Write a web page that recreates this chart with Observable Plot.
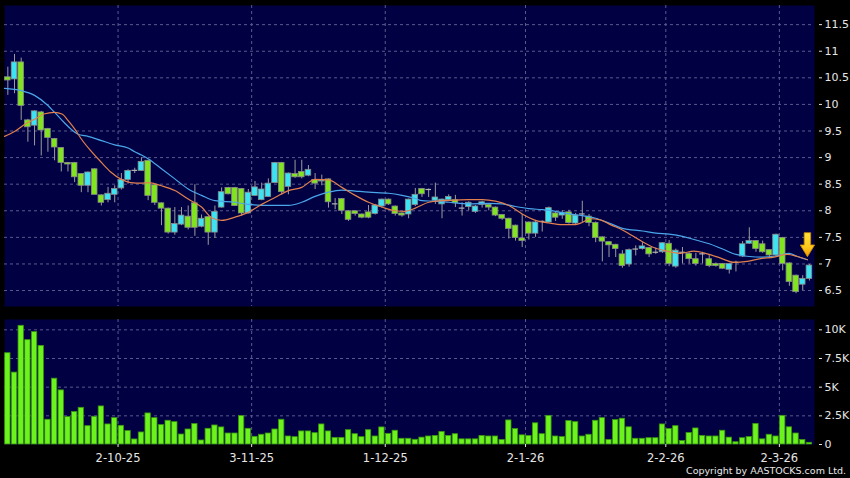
<!DOCTYPE html>
<html>
<head>
<meta charset="utf-8">
<script src="https://cdn.jsdelivr.net/npm/d3@7"></script>
<script src="https://cdn.jsdelivr.net/npm/@observablehq/plot@0.6"></script>
<style>
html,body{margin:0;padding:0;background:#000;}
#wrap{position:relative;width:850px;height:478px;background:#000;overflow:hidden;font-family:"DejaVu Sans",sans-serif;}
#price{position:absolute;left:0;top:0;}
#vol{position:absolute;left:0;top:310px;}
#copy{position:absolute;right:4px;top:465px;color:#e8e8e8;font-size:9.5px;font-family:"DejaVu Sans",sans-serif;white-space:nowrap;}
</style>
</head>
<body>
<div id="wrap"><div id="price"></div><div id="vol"></div><div id="copy">Copyright by AASTOCKS.com Ltd.</div></div>
<script>
// ---- data ----
const opens = [10.51,10.47,10.79,9.70,9.60,9.85,9.54,9.35,9.18,8.90,
 8.90,8.69,8.47,8.78,8.29,8.20,8.30,8.42,8.58,8.75,
 8.75,8.94,8.48,8.14,8.04,7.59,7.74,7.89,8.14,7.70,
 7.88,7.59,8.06,8.43,8.43,8.41,7.95,8.28,8.20,8.26,
 8.52,8.90,8.45,8.69,8.73,8.66,8.58,8.55,8.59,8.13,
 8.22,7.99,7.99,7.93,7.97,7.94,8.08,8.21,8.08,7.95,
 7.93,8.11,8.41,8.40,8.19,8.12,8.20,8.20,8.05,8.07,
 7.98,8.11,8.11,8.06,7.92,7.85,7.72,7.48,7.78,7.57,
 7.80,7.78,7.95,7.91,7.97,7.76,7.94,7.89,7.77,7.50,
 7.41,7.36,7.18,6.99,7.28,7.28,7.30,7.22,7.22,7.38,
 6.95,7.22,7.19,7.09,7.19,7.09,7.00,7.00,6.89,7.03,
 7.14,7.38,7.43,7.37,7.26,7.16,7.49,7.01,6.78,6.61,
 6.72];
const closes = [10.45,10.79,9.97,9.57,9.87,9.51,9.37,9.19,8.90,8.87,
 8.63,8.47,8.72,8.30,8.15,8.32,8.41,8.58,8.75,8.76,
 8.92,8.28,8.15,8.04,7.59,7.75,7.91,7.68,7.68,7.85,
 7.59,7.98,8.35,8.31,8.09,7.95,8.34,8.44,8.40,8.51,
 8.90,8.35,8.70,8.63,8.63,8.77,8.51,8.57,8.16,8.13,
 8.00,7.83,7.94,7.87,7.87,8.10,8.21,8.12,7.94,7.91,
 8.21,8.30,8.31,8.40,8.25,8.21,8.26,8.14,8.05,8.15,
 8.08,8.16,8.06,7.91,7.85,7.66,7.49,7.43,7.57,7.78,
 7.80,8.05,7.87,7.96,7.77,7.91,7.94,7.77,7.49,7.42,
 7.35,7.28,6.96,7.26,7.28,7.33,7.18,7.22,7.39,7.00,
 7.25,7.22,7.09,7.00,7.19,6.96,6.96,6.91,7.00,7.03,
 7.37,7.43,7.28,7.22,7.16,7.55,7.00,6.66,6.47,6.72,
 6.97];
const highs = [10.70,10.94,10.87,9.72,9.88,9.87,9.55,9.36,9.19,8.91,
 8.91,8.70,8.73,8.79,8.30,8.44,8.47,8.70,8.77,8.80,
 9.00,8.95,8.49,8.15,8.05,8.06,8.06,8.09,8.49,7.92,
 7.89,8.09,8.43,8.44,8.44,8.42,8.40,8.55,8.52,8.60,
 8.91,8.91,8.71,8.95,8.95,8.85,8.70,8.67,8.60,8.23,
 8.23,8.00,8.00,7.94,8.10,8.12,8.22,8.22,8.09,7.96,
 8.22,8.42,8.42,8.41,8.52,8.22,8.30,8.29,8.15,8.17,
 8.10,8.18,8.12,8.07,7.93,7.86,7.73,7.93,7.79,7.80,
 7.81,8.07,7.97,8.00,8.01,7.95,8.18,7.93,7.79,7.51,
 7.42,7.37,7.25,7.28,7.34,7.40,7.31,7.30,7.40,7.44,
 7.28,7.31,7.21,7.20,7.22,7.16,7.02,7.01,7.01,7.05,
 7.42,7.68,7.44,7.43,7.27,7.56,7.50,7.02,6.79,6.78,
 6.99];
const lows = [10.17,10.20,9.70,9.29,9.22,9.03,9.10,8.94,8.73,8.73,
 8.53,8.34,8.34,8.30,8.09,8.15,8.15,8.39,8.50,8.70,
 8.74,8.19,8.10,7.72,7.56,7.54,7.72,7.64,7.52,7.68,
 7.35,7.48,8.05,8.30,8.08,7.90,7.94,8.27,8.19,8.25,
 8.51,8.30,8.30,8.61,8.60,8.64,8.40,8.47,8.05,8.02,
 7.93,7.80,7.90,7.85,7.85,7.92,8.05,8.10,7.90,7.88,
 7.85,8.08,8.25,8.25,8.12,7.85,8.18,8.06,7.90,8.00,
 7.95,8.05,8.00,7.89,7.82,7.47,7.43,7.31,7.45,7.50,
 7.60,7.76,7.80,7.84,7.75,7.74,7.78,7.70,7.40,7.04,
 7.12,7.12,6.92,6.94,7.15,7.26,7.12,7.18,7.20,6.95,
 6.92,7.00,7.00,6.96,7.00,6.93,6.94,6.90,6.81,6.85,
 7.12,7.37,7.22,7.20,7.10,7.14,6.87,6.58,6.44,6.50,
 6.68];
// volume in thousands of shares
const volumes = [7.96,6.27,10.35,9.1,9.8,8.6,2.16,5.74,4.72,2.39,
 2.83,3.2,1.6,2.42,3.32,1.75,2.3,1.63,1.17,0.44,
 1.05,2.71,2.3,1.69,2.07,1.95,0.87,1.31,1.78,0.35,
 1.37,1.66,1.49,0.96,0.96,2.48,1.37,0.67,0.85,0.96,
 1.31,2.16,0.7,0.64,1.14,1.14,0.99,1.75,1.14,0.58,
 0.58,1.25,0.9,0.64,1.25,0.7,1.49,0.93,1.2,0.5,
 0.5,0.41,
 0.6,0.7,0.75,1.1,0.75,0.9,0.45,0.45,0.45,0.75,
 0.7,0.7,0.4,2.1,1.35,0.8,0.75,1.85,0.9,2.5,
 0.7,0.65,2.05,1.95,0.7,0.85,2.07,2.3,0.4,2.13,
 2.25,1.5,0.5,0.5,0.55,0.55,1.75,1.35,1.6,0.3,
 1.0,1.4,0.75,0.7,0.7,1.2,0.6,0.2,0.55,0.65,
 1.8,0.45,0.85,0.7,2.5,1.5,0.96,0.4,0.15];
// moving-average lines (bar index, value)
const maBlueIdx = [-0.5,2,4,6,7,8.5,9.5,10.5,12,14,16,18,19,20,21,23,25,27,29,31,34,36,39,42,44,46,48,50,52,54,57,59,61,62,64,66,69,72,74,76,78,80,82,84,86,88,90,92,95,97,99,101,103,105,107,109,111,113,115,117,118,119.7];
const maBlueVal = [10.30,10.26,10.17,9.98,9.85,9.65,9.53,9.44,9.40,9.32,9.24,9.18,9.11,9.05,8.98,8.79,8.60,8.41,8.29,8.19,8.16,8.12,8.10,8.10,8.16,8.27,8.35,8.39,8.37,8.35,8.33,8.29,8.23,8.19,8.18,8.16,8.13,8.14,8.13,8.08,8.04,8.02,7.99,7.94,7.91,7.86,7.77,7.67,7.62,7.58,7.56,7.52,7.45,7.38,7.28,7.18,7.14,7.13,7.15,7.20,7.15,7.08];
const maOrangeIdx = [-0.5,1,2.6,4,5.4,7,8.1,9,10,11,12.4,14,15.4,17,18.4,20,21,23,25,27,29,30.5,32,34,36,38,40,42,44,46,48,50,52,54,56,58,59.5,61,63,65,67,69,71,73,75,77,79,81,83,85,86,87.2,88.7,90.2,92,94.7,96.7,98.7,100.7,102.7,104.7,106.7,108.7,110.7,112.7,114.7,116.7,118.2,119.7];
const maOrangeVal = [9.40,9.49,9.63,9.72,9.82,9.85,9.82,9.70,9.54,9.35,9.13,8.91,8.73,8.59,8.53,8.52,8.53,8.47,8.38,8.22,8.07,7.87,7.82,7.88,7.97,8.12,8.25,8.38,8.44,8.59,8.58,8.44,8.29,8.16,8.07,8.00,7.99,8.05,8.16,8.19,8.20,8.21,8.21,8.18,8.10,7.94,7.82,7.77,7.74,7.74,7.78,7.85,7.83,7.74,7.64,7.44,7.31,7.24,7.20,7.24,7.19,7.11,7.03,7.05,7.10,7.13,7.18,7.14,7.08];
// axis ticks
const monthStartIdx = [17,37,57,78,99,116];
const monthLabels = ["2-10-25","3-11-25","1-12-25","2-1-26","2-2-26","2-3-26"];
const priceTicks = [6.5,7,7.5,8,8.5,9,9.5,10,10.5,11,11.5];
const volTicks = [0,2.5,5,7.5,10];
const volTickLabels = ["0","2.5K","5K","7.5K","10K"];

// ---- build ----
const candles = opens.map((o,i)=>({i, o, c: closes[i], h: highs[i], l: lows[i]}));
const bodies = candles.filter(d => Math.abs(d.c - d.o) >= 0.015);
const dojis = candles.filter(d => Math.abs(d.c - d.o) < 0.015);
const vols = volumes.map((v,i)=>({i, v}));
const blue = maBlueIdx.map((x,k)=>({x, y: maBlueVal[k]}));
const orange = maOrangeIdx.map((x,k)=>({x, y: maOrangeVal[k]}));
const gridX = monthStartIdx.map(i => i - 0.5);
const labelMap = new Map(gridX.map((g,k)=>[g, monthLabels[k]]));
const volLabelMap = new Map(volTicks.map((t,k)=>[t, volTickLabels[k]]));

const NAVY = "#000042", GRID = "#5a5a8e", CYAN = "#3ee3f2", GREEN = "#80e41e";
const xDomain = [-0.5, 120.76];
const style = {background: "transparent", color: "#e6e6e6", fontFamily: "DejaVu Sans, sans-serif", overflow: "visible"};

const downArrow = {
  draw(ctx, size) {
    const r = Math.sqrt(size / Math.PI);
    const sw = 0.27 * r, hw = 0.6 * r, hy = 0.02 * r;
    ctx.moveTo(-sw, -r); ctx.lineTo(sw, -r); ctx.lineTo(sw, hy); ctx.lineTo(hw, hy);
    ctx.lineTo(0, r); ctx.lineTo(-hw, hy); ctx.lineTo(-sw, hy); ctx.closePath();
  }
};
const last = blue[blue.length - 1];

const price = Plot.plot({
  width: 850, height: 310,
  marginTop: 5, marginBottom: 4, marginLeft: 4, marginRight: 36,
  style,
  x: {type: "linear", domain: xDomain, axis: null},
  y: {domain: [6.2, 11.86], axis: null},
  marks: [
    Plot.frame({fill: NAVY}),
    Plot.ruleY(priceTicks, {stroke: GRID, strokeDasharray: "3,3"}),
    Plot.ruleX(gridX, {stroke: GRID, strokeDasharray: "3,3"}),
    Plot.ruleX(candles, {x: "i", y1: "l", y2: "h", stroke: "#9c9c9c", strokeWidth: 1}),
    Plot.rect(bodies, {x1: d => d.i - 0.42, x2: d => d.i + 0.42, y1: "o", y2: "c",
      fill: d => d.c > d.o ? CYAN : GREEN, stroke: "#8a8a8a", strokeWidth: 0.8}),
    Plot.ruleY(dojis, {x1: d => d.i - 0.42, x2: d => d.i + 0.42, y: "c", stroke: "#b4b4b4", strokeWidth: 1.2}),
    Plot.line(blue, {x: "x", y: "y", stroke: "#4aa6ea", strokeWidth: 1.2, curve: "monotone-x"}),
    Plot.line(orange, {x: "x", y: "y", stroke: "#e2804e", strokeWidth: 1.2, curve: "monotone-x"}),
    Plot.dot([last], {x: "x", y: "y", dy: -15, r: 12, symbol: downArrow, fill: "url(#arrowGrad)", stroke: "#c98a00", strokeWidth: 0.8}),
    Plot.axisY(priceTicks, {anchor: "right", tickSize: 3, tickPadding: 3, dx: 4, fontSize: 11,
      tickFormat: d => String(d), color: "#e6e6e6", label: null})
  ]
});
const defs = d3.select(price).insert("defs", ":first-child");
const g = defs.append("linearGradient").attr("id", "arrowGrad").attr("x1", 0).attr("y1", 0).attr("x2", 0).attr("y2", 1);
g.append("stop").attr("offset", "0%").attr("stop-color", "#ffe23a");
g.append("stop").attr("offset", "60%").attr("stop-color", "#ffc81a");
g.append("stop").attr("offset", "100%").attr("stop-color", "#f29a00");
document.getElementById("price").appendChild(price);

const vol = Plot.plot({
  width: 850, height: 168,
  marginTop: 9, marginBottom: 34, marginLeft: 4, marginRight: 36,
  style,
  x: {type: "linear", domain: xDomain},
  y: {domain: [0, 10.9], axis: null},
  marks: [
    Plot.frame({fill: NAVY}),
    Plot.ruleY(volTicks.filter(t => t > 0), {stroke: GRID, strokeDasharray: "3,3"}),
    Plot.ruleX(gridX, {stroke: GRID, strokeDasharray: "3,3"}),
    Plot.rect(vols, {x1: d => d.i - 0.4, x2: d => d.i + 0.4, y1: 0, y2: "v",
      fill: "#6cf21c", stroke: "#3a9410", strokeWidth: 0.8}),
    Plot.axisY(volTicks, {anchor: "right", tickSize: 3, tickPadding: 3, dx: 4, fontSize: 11,
      tickFormat: d => volLabelMap.get(d), color: "#e6e6e6", label: null}),
    Plot.axisX(gridX, {anchor: "bottom", tickSize: 3, tickPadding: 6, fontSize: 11.5,
      tickFormat: d => labelMap.get(d), color: "#e6e6e6", label: null})
  ]
});
document.getElementById("vol").appendChild(vol);
</script>
</body>
</html>
